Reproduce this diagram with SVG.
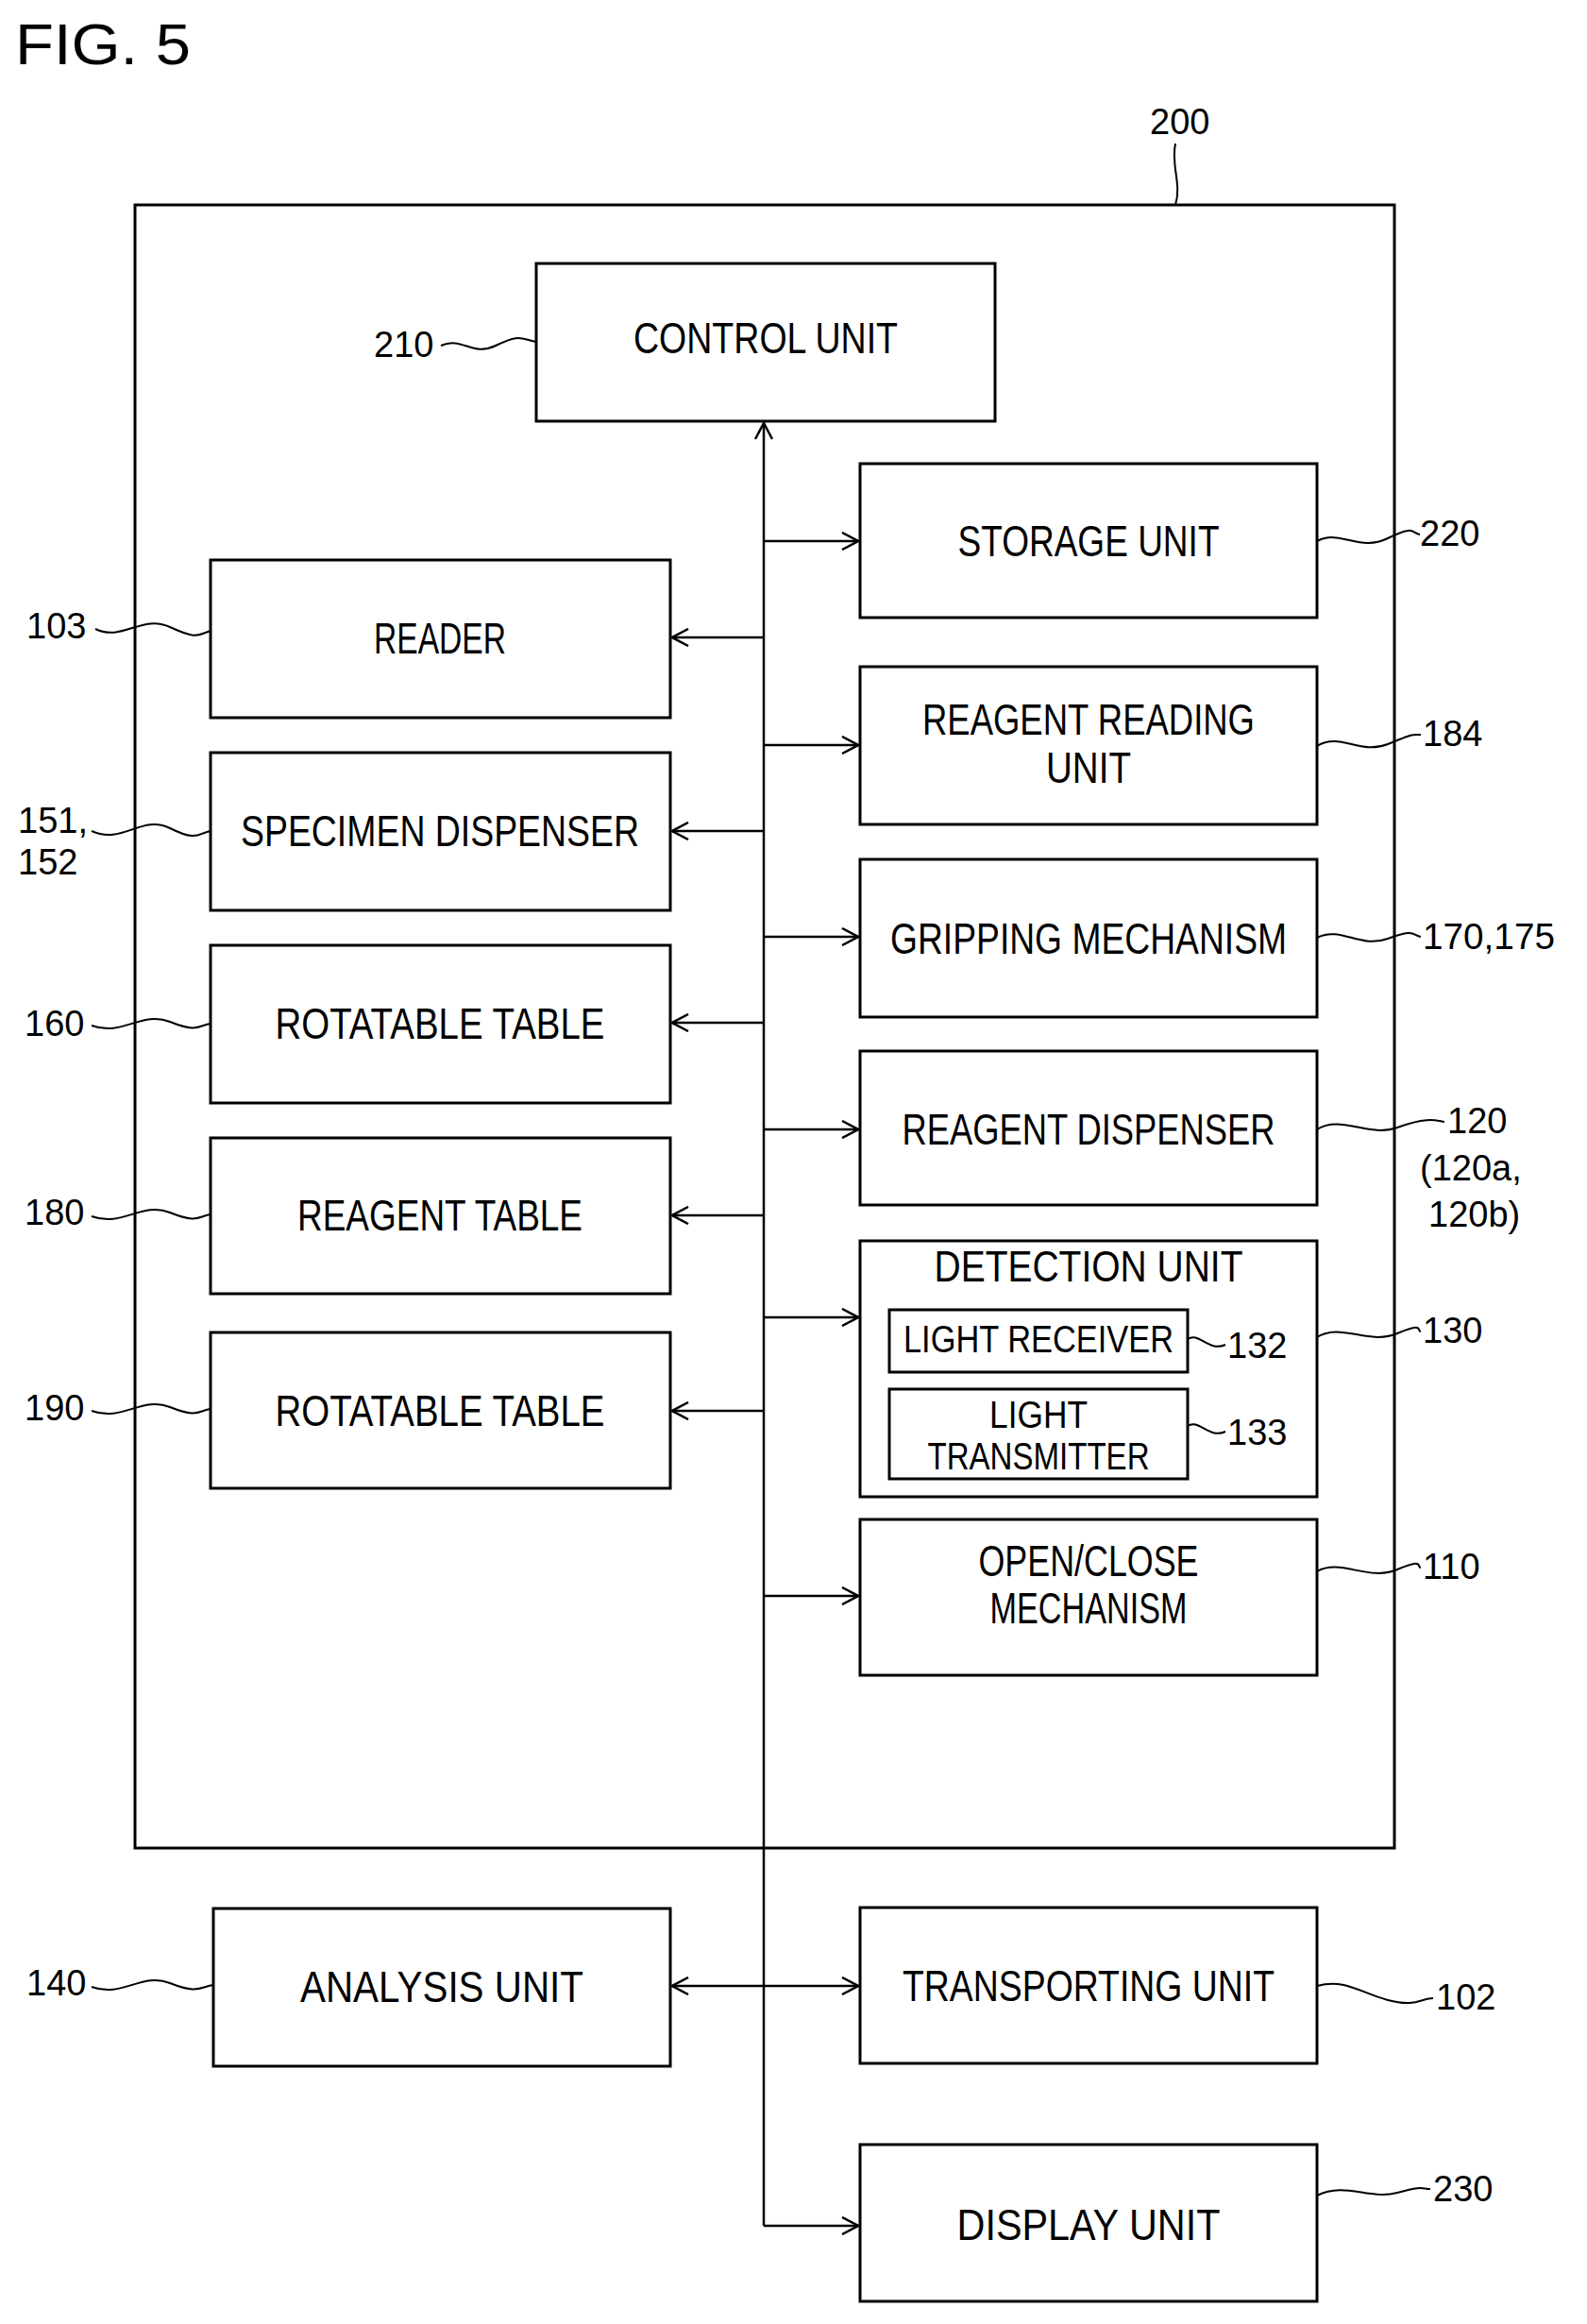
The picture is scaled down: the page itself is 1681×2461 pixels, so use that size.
<svg xmlns="http://www.w3.org/2000/svg" width="1681" height="2461" viewBox="0 0 1681 2461">
<style>
.b{fill:none;stroke:#000;stroke-width:3}
.t{font-family:"Liberation Sans",Arial,sans-serif;font-size:46px;text-anchor:middle;fill:#000}
.s{font-family:"Liberation Sans",Arial,sans-serif;font-size:40px;text-anchor:middle;fill:#000}
.n{font-family:"Liberation Sans",Arial,sans-serif;font-size:38px;fill:#000}
.f{font-family:"Liberation Sans",Arial,sans-serif;font-size:62px;fill:#000}
.l{fill:none;stroke:#000;stroke-width:2}
.c{fill:none;stroke:#000;stroke-width:2.5}
</style>
<defs>
<marker id="a" viewBox="0 0 20 20" refX="19" refY="10" markerWidth="20" markerHeight="20" markerUnits="userSpaceOnUse" orient="auto-start-reverse">
<path d="M2,1 L19,10 L2,19" fill="none" stroke="#000" stroke-width="2.5"/>
</marker>
</defs>
<rect fill="#fff" width="1681" height="2461"/>
<text class="f" x="16" y="68" textLength="186" lengthAdjust="spacingAndGlyphs">FIG. 5</text>

<g id="n200"><rect class="b" x="143" y="217" width="1334" height="1740"/><text class="n" x="1218" y="142">200</text><path class="l" d="M1245,152 C1240,175 1252,195 1245,217"/></g>
<g id="n210"><rect class="b" x="568" y="279" width="486" height="167"/><text class="t" x="811" y="374" textLength="280" lengthAdjust="spacingAndGlyphs">CONTROL UNIT</text><text class="n" x="396" y="378">210</text><path class="l" d="M467,366 C490,356 500,378 525,366 S550,358 568,362"/></g>
<g id="n220"><rect class="b" x="911" y="491" width="484" height="163"/><text class="t" x="1153" y="589" textLength="277" lengthAdjust="spacingAndGlyphs">STORAGE UNIT</text><text class="n" x="1504" y="578">220</text><path class="l" d="M1395,573 C1420,560 1440,585 1470,570 S1495,565 1504,566"/></g>
<g id="n103"><rect class="b" x="223" y="593" width="487" height="167"/><text class="t" x="466" y="692" textLength="140" lengthAdjust="spacingAndGlyphs">READER</text><text class="n" x="28" y="676">103</text><path class="l" d="M101,666 C130,680 150,650 180,664 S210,672 223,668"/></g>
<g id="n184"><rect class="b" x="911" y="706" width="484" height="167"/><text class="t" x="1153" y="778" textLength="352" lengthAdjust="spacingAndGlyphs">REAGENT READING</text><text class="t" x="1153" y="829" textLength="90" lengthAdjust="spacingAndGlyphs">UNIT</text><text class="n" x="1507" y="790">184</text><path class="l" d="M1395,790 C1420,775 1440,800 1470,788 S1495,778 1505,778"/></g>
<g id="n151"><rect class="b" x="223" y="797" width="487" height="167"/><text class="t" x="466" y="896" textLength="422" lengthAdjust="spacingAndGlyphs">SPECIMEN DISPENSER</text><text class="n" x="19" y="882">151,</text><text class="n" x="19" y="926">152</text><path class="l" d="M97,880 C130,895 150,862 180,877 S210,882 223,880"/></g>
<g id="n170"><rect class="b" x="911" y="910" width="484" height="167"/><text class="t" x="1153" y="1010" textLength="420" lengthAdjust="spacingAndGlyphs">GRIPPING MECHANISM</text><text class="n" x="1507" y="1005" textLength="140" lengthAdjust="spacingAndGlyphs">170,175</text><path class="l" d="M1395,993 C1420,980 1440,1005 1470,994 S1495,990 1505,992"/></g>
<g id="n160"><rect class="b" x="223" y="1001" width="487" height="167"/><text class="t" x="466" y="1100" textLength="349" lengthAdjust="spacingAndGlyphs">ROTATABLE TABLE</text><text class="n" x="26" y="1097">160</text><path class="l" d="M97,1086 C130,1098 150,1070 180,1082 S210,1086 223,1084"/></g>
<g id="n120"><rect class="b" x="911" y="1113" width="484" height="163"/><text class="t" x="1153" y="1212" textLength="395" lengthAdjust="spacingAndGlyphs">REAGENT DISPENSER</text><text class="n" x="1533" y="1200">120</text><text class="n" x="1504" y="1250">(120a,</text><text class="n" x="1513" y="1299">120b)</text><path class="l" d="M1395,1196 C1420,1180 1450,1205 1480,1194 S1520,1186 1530,1188"/></g>
<g id="n180"><rect class="b" x="223" y="1205" width="487" height="165"/><text class="t" x="466" y="1303" textLength="302" lengthAdjust="spacingAndGlyphs">REAGENT TABLE</text><text class="n" x="26" y="1297">180</text><path class="l" d="M97,1288 C130,1300 150,1272 180,1284 S210,1288 223,1286"/></g>
<g id="n130"><rect class="b" x="911" y="1314" width="484" height="271"/><text class="t" x="1153" y="1357" textLength="327" lengthAdjust="spacingAndGlyphs">DETECTION UNIT</text><text class="n" x="1507" y="1422">130</text><path class="l" d="M1395,1416 C1420,1400 1450,1425 1480,1412 S1500,1410 1505,1410"/></g>
<g id="n132"><rect class="b" x="942" y="1387" width="316" height="66"/><text class="s" x="1100" y="1432" textLength="286" lengthAdjust="spacingAndGlyphs">LIGHT RECEIVER</text><text class="n" x="1300" y="1438">132</text><path class="l" d="M1258,1418 C1270,1410 1280,1432 1298,1424"/></g>
<g id="n133"><rect class="b" x="942" y="1471" width="316" height="95"/><text class="s" x="1100" y="1512" textLength="104" lengthAdjust="spacingAndGlyphs">LIGHT</text><text class="s" x="1100" y="1556" textLength="235" lengthAdjust="spacingAndGlyphs">TRANSMITTER</text><text class="n" x="1300" y="1530">133</text><path class="l" d="M1258,1510 C1270,1502 1280,1524 1298,1516"/></g>
<g id="n190"><rect class="b" x="223" y="1411" width="487" height="165"/><text class="t" x="466" y="1510" textLength="349" lengthAdjust="spacingAndGlyphs">ROTATABLE TABLE</text><text class="n" x="26" y="1504">190</text><path class="l" d="M97,1494 C130,1506 150,1478 180,1490 S210,1494 223,1492"/></g>
<g id="n110"><rect class="b" x="911" y="1609" width="484" height="165"/><text class="t" x="1153" y="1669" textLength="233" lengthAdjust="spacingAndGlyphs">OPEN/CLOSE</text><text class="t" x="1153" y="1719" textLength="209" lengthAdjust="spacingAndGlyphs">MECHANISM</text><text class="n" x="1507" y="1672">110</text><path class="l" d="M1395,1664 C1420,1650 1450,1675 1480,1662 S1500,1660 1505,1660"/></g>
<g id="n140"><rect class="b" x="226" y="2021" width="484" height="167"/><text class="t" x="468" y="2120" textLength="300" lengthAdjust="spacingAndGlyphs">ANALYSIS UNIT</text><text class="n" x="28" y="2113">140</text><path class="l" d="M97,2104 C130,2116 150,2088 180,2100 S212,2104 226,2102"/></g>
<g id="n102"><rect class="b" x="911" y="2020" width="484" height="165"/><text class="t" x="1153" y="2119" textLength="394" lengthAdjust="spacingAndGlyphs">TRANSPORTING UNIT</text><text class="n" x="1521" y="2128">102</text><path class="l" d="M1395,2103 C1425,2095 1440,2110 1470,2118 S1505,2116 1518,2116"/></g>
<g id="n230"><rect class="b" x="911" y="2271" width="484" height="166"/><text class="t" x="1153" y="2372" textLength="279" lengthAdjust="spacingAndGlyphs">DISPLAY UNIT</text><text class="n" x="1518" y="2331">230</text><path class="l" d="M1395,2325 C1425,2310 1450,2330 1480,2322 S1505,2318 1515,2318"/></g>

<g id="connectors">
<path class="c" d="M809,2357 L809,448" marker-end="url(#a)"/>
<path class="c" d="M809,573 H909" marker-end="url(#a)"/>
<path class="c" d="M809,789 H909" marker-end="url(#a)"/>
<path class="c" d="M809,992 H909" marker-end="url(#a)"/>
<path class="c" d="M809,1196 H909" marker-end="url(#a)"/>
<path class="c" d="M809,1395 H909" marker-end="url(#a)"/>
<path class="c" d="M809,1690 H909" marker-end="url(#a)"/>
<path class="c" d="M809,2357 H909" marker-end="url(#a)"/>
<path class="c" d="M712,2103 H909" marker-start="url(#a)" marker-end="url(#a)"/>
<path class="c" d="M809,675 H712" marker-end="url(#a)"/>
<path class="c" d="M809,880 H712" marker-end="url(#a)"/>
<path class="c" d="M809,1083 H712" marker-end="url(#a)"/>
<path class="c" d="M809,1287 H712" marker-end="url(#a)"/>
<path class="c" d="M809,1494 H712" marker-end="url(#a)"/>
</g>
</svg>
